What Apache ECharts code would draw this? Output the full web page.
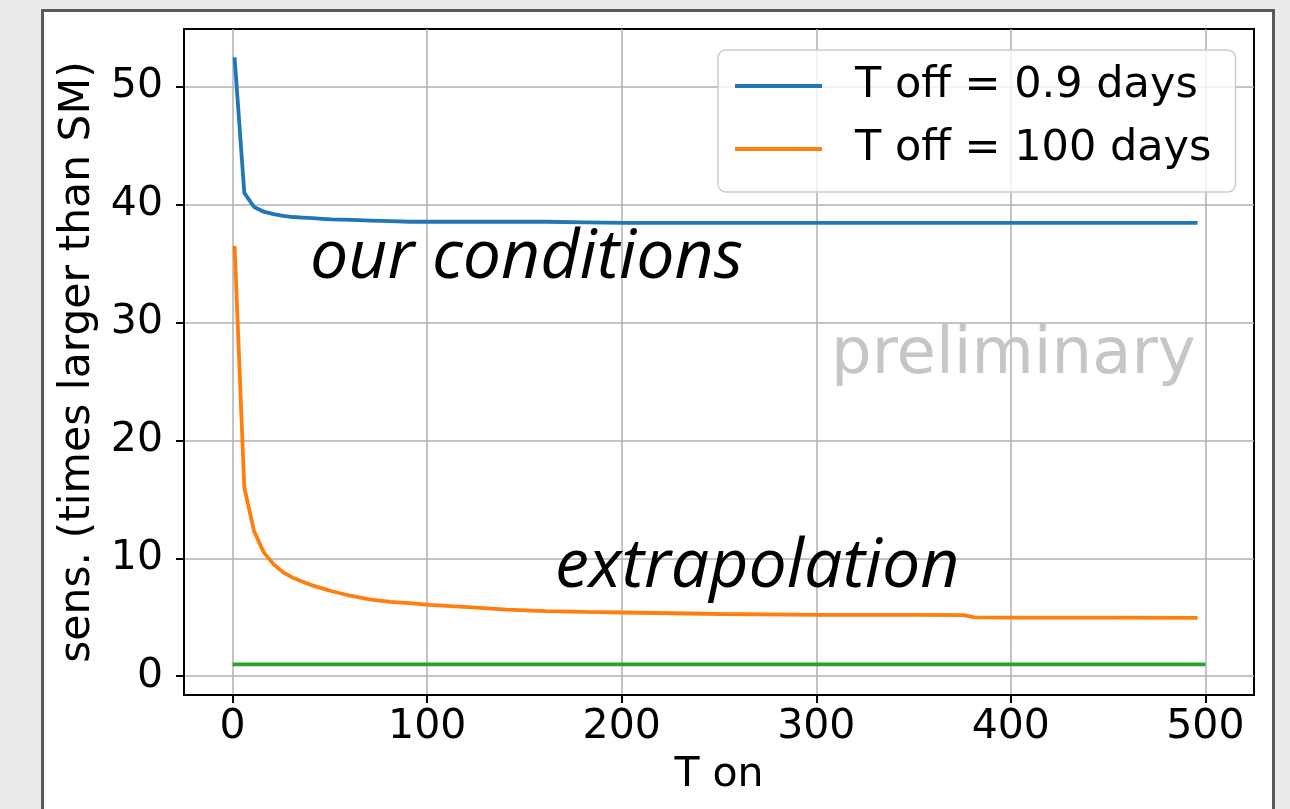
<!DOCTYPE html>
<html>
<head>
<meta charset="utf-8">
<script src="https://cdn.jsdelivr.net/npm/echarts@6/dist/echarts.min.js"></script>
<style>
  html, body { margin: 0; padding: 0; background: #ebebeb; }
  #chart { width: 1290px; height: 809px; }
</style>
</head>
<body>
<div id="chart"></div>
<script>
// T on (days) sampled for both sensitivity curves
const tOn = [1, 6, 11, 16, 21, 26, 31, 36, 41, 46, 51, 61, 71, 81, 91, 101, 121, 141, 161, 181, 201, 251, 301, 351, 376, 381, 401, 451, 496];
// sensitivity relative to SM, T off = 0.9 days
const sensOff09 = [52.5, 41.0, 39.8, 39.4, 39.2, 39.05, 38.95, 38.9, 38.85, 38.8, 38.75, 38.7, 38.65, 38.6, 38.55, 38.55, 38.55, 38.55, 38.55, 38.5, 38.45, 38.45, 38.45, 38.45, 38.45, 38.45, 38.45, 38.45, 38.45];
// sensitivity relative to SM, T off = 100 days
const sensOff100 = [36.5, 16.0, 12.3, 10.5, 9.5, 8.8, 8.35, 8.0, 7.7, 7.45, 7.2, 6.8, 6.5, 6.3, 6.2, 6.05, 5.85, 5.65, 5.52, 5.45, 5.4, 5.27, 5.2, 5.2, 5.18, 4.98, 4.97, 4.96, 4.95];
// SM reference level
const smT = [0, 500];
const smLevel = [1, 1];

const xTicks = [0, 100, 200, 300, 400, 500];
const yTicks = [0, 10, 20, 30, 40, 50];
const seriesNames = ['T off = 0.9 days', 'T off = 100 days'];

const pairs = (xs, ys) => xs.map((x, i) => [x, ys[i]]);

const FONT = 'DejaVu Sans';
const chart = echarts.init(document.getElementById('chart'));

chart.setOption({
  animation: false,
  backgroundColor: '#ebebeb',
  graphic: {
    elements: [
      {
        type: 'rect', z: -100, silent: true,
        shape: { x: 42.5, y: 10.5, width: 1231, height: 900 },
        style: { fill: '#ffffff', stroke: '#5a5a5a', lineWidth: 3 }
      },
      {
        type: 'text', z: 100, silent: true,
        left: 831, top: 324,
        style: { text: 'preliminary', fill: '#c6c6c6', font: '64px "DejaVu Sans"' }
      },
      {
        type: 'text', z: 100, silent: true,
        left: 310, top: 225,
        style: { text: 'our conditions', fill: '#000', font: 'italic 68px "Open Sans"' }
      },
      {
        type: 'text', z: 100, silent: true,
        left: 555, top: 534,
        style: { text: 'extrapolation', fill: '#000', font: 'italic 68px "Open Sans"' }
      }
    ]
  },
  grid: {
    left: 184, top: 29, right: 36, bottom: 114,
    show: true, borderColor: '#000', borderWidth: 2, backgroundColor: '#fff'
  },
  legend: {
    data: seriesNames,
    orient: 'vertical',
    left: 718, top: 50,
    icon: 'rect',
    itemWidth: 87, itemHeight: 4,
    itemGap: 17,
    padding: [13, 24, 20, 17],
    backgroundColor: 'rgba(255,255,255,0.8)',
    borderColor: '#cccccc', borderWidth: 1.5, borderRadius: 8,
    textStyle: { fontFamily: FONT, fontSize: 43, color: '#000', lineHeight: 46, padding: [0, 0, 0, 28] }
  },
  xAxis: {
    type: 'value', min: -25, max: 525,
    name: 'T on', nameLocation: 'middle', nameGap: 60,
    nameTextStyle: { fontFamily: FONT, fontSize: 41, color: '#000' },
    axisLine: { show: true, onZero: false, lineStyle: { color: '#000', width: 2 } },
    axisTick: { show: true, inside: false, length: 8, customValues: xTicks, lineStyle: { color: '#000', width: 2 } },
    axisLabel: { customValues: xTicks, fontFamily: FONT, fontSize: 41, color: '#000', margin: 12 },
    splitLine: { show: true, lineStyle: { color: '#b0b0b0', width: 1.5 } }
  },
  yAxis: {
    type: 'value', min: -1.6, max: 54.9,
    name: 'sens. (times larger than SM)', nameLocation: 'middle', nameGap: 82, nameRotate: 90,
    nameTextStyle: { fontFamily: FONT, fontSize: 42.5, color: '#000' },
    axisLine: { show: true, onZero: false, lineStyle: { color: '#000', width: 2 } },
    axisTick: { show: true, inside: false, length: 8, customValues: yTicks, lineStyle: { color: '#000', width: 2 } },
    axisLabel: { customValues: yTicks, fontFamily: FONT, fontSize: 41, color: '#000', margin: 21 },
    splitLine: { show: true, lineStyle: { color: '#b0b0b0', width: 1.5 } }
  },
  series: [
    {
      name: seriesNames[0], type: 'line', showSymbol: false, symbol: 'none',
      data: pairs(tOn, sensOff09),
      color: '#1f77b4', lineStyle: { color: '#1f77b4', width: 3.8 }
    },
    {
      name: seriesNames[1], type: 'line', showSymbol: false, symbol: 'none',
      data: pairs(tOn, sensOff100),
      color: '#ff7f0e', lineStyle: { color: '#ff7f0e', width: 3.8 }
    },
    {
      name: 'SM', type: 'line', showSymbol: false, symbol: 'none',
      data: pairs(smT, smLevel),
      color: '#2ca02c', lineStyle: { color: '#2ca02c', width: 3.8 }
    }
  ]
});
</script>
</body>
</html>
